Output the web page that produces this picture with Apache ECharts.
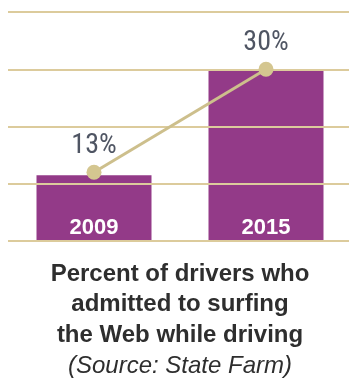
<!DOCTYPE html>
<html><head><meta charset="utf-8">
<script src="https://cdn.jsdelivr.net/npm/echarts@6/dist/echarts.min.js"></script>
<style>html,body{margin:0;padding:0;background:#fff}#c{width:349px;height:379px}</style>
</head><body><div id="c"></div>
<script>
const categories = ['2009', '2015'];
const barValues = [11.5, 30];
const pointValues = [12, 30];
const pointLabels = ['13%', '30%'];
const yTicks = [0, 10, 20, 30, 40];
const titleLines = ['Percent of drivers who', 'admitted to surfing', 'the Web while driving'];
const sourceLine = '(Source: State Farm)';

const chart = echarts.init(document.getElementById('c'));
chart.setOption({
  animation: false,
  grid: { left: 8, top: 12, width: 344, height: 229, containLabel: false, outerBoundsMode: 'none' },
  xAxis: {
    type: 'category', data: categories,
    axisLine: { show: false }, axisTick: { show: false }, axisLabel: { show: false }
  },
  yAxis: {
    type: 'value', min: yTicks[0], max: yTicks[yTicks.length - 1], interval: 10, z: 5,
    axisLabel: { show: false }, axisLine: { show: false }, axisTick: { show: false },
    splitLine: { lineStyle: { color: '#dccb9c', width: 2 } }
  },
  series: [
    {
      type: 'bar', data: barValues, barWidth: 115, z: 2,
      itemStyle: { color: '#933a88' },
      label: {
        show: true, position: 'insideBottom', distance: 2,
        formatter: p => p.name,
        color: '#fff', fontFamily: 'Liberation Sans', fontWeight: 'bold', fontSize: 22
      }
    },
    {
      type: 'line', data: pointValues, z: 10,
      symbol: 'circle', symbolSize: 15,
      lineStyle: { color: '#cdbf8c', width: 3 },
      itemStyle: { color: '#d4c690' },
      label: {
        show: true, position: 'top', distance: 5,
        formatter: p => pointLabels[p.dataIndex],
        color: '#4f5563', fontFamily: '"Liberation Sans Narrow", "Roboto Condensed", Roboto', fontWeight: 'normal', fontSize: 28
      }
    }
  ],
  graphic: [
    {
      type: 'text', x: 180, top: 259,
      style: {
        text: titleLines.join('\n'), textAlign: 'center',
        font: 'bold 24px "Liberation Sans"', lineHeight: 30.5, fill: '#2e2e2e'
      }
    },
    {
      type: 'text', x: 180, top: 354,
      style: {
        text: sourceLine, textAlign: 'center',
        font: 'italic 24px "Liberation Sans"', fill: '#2e2e2e'
      }
    }
  ]
});
</script></body></html>
